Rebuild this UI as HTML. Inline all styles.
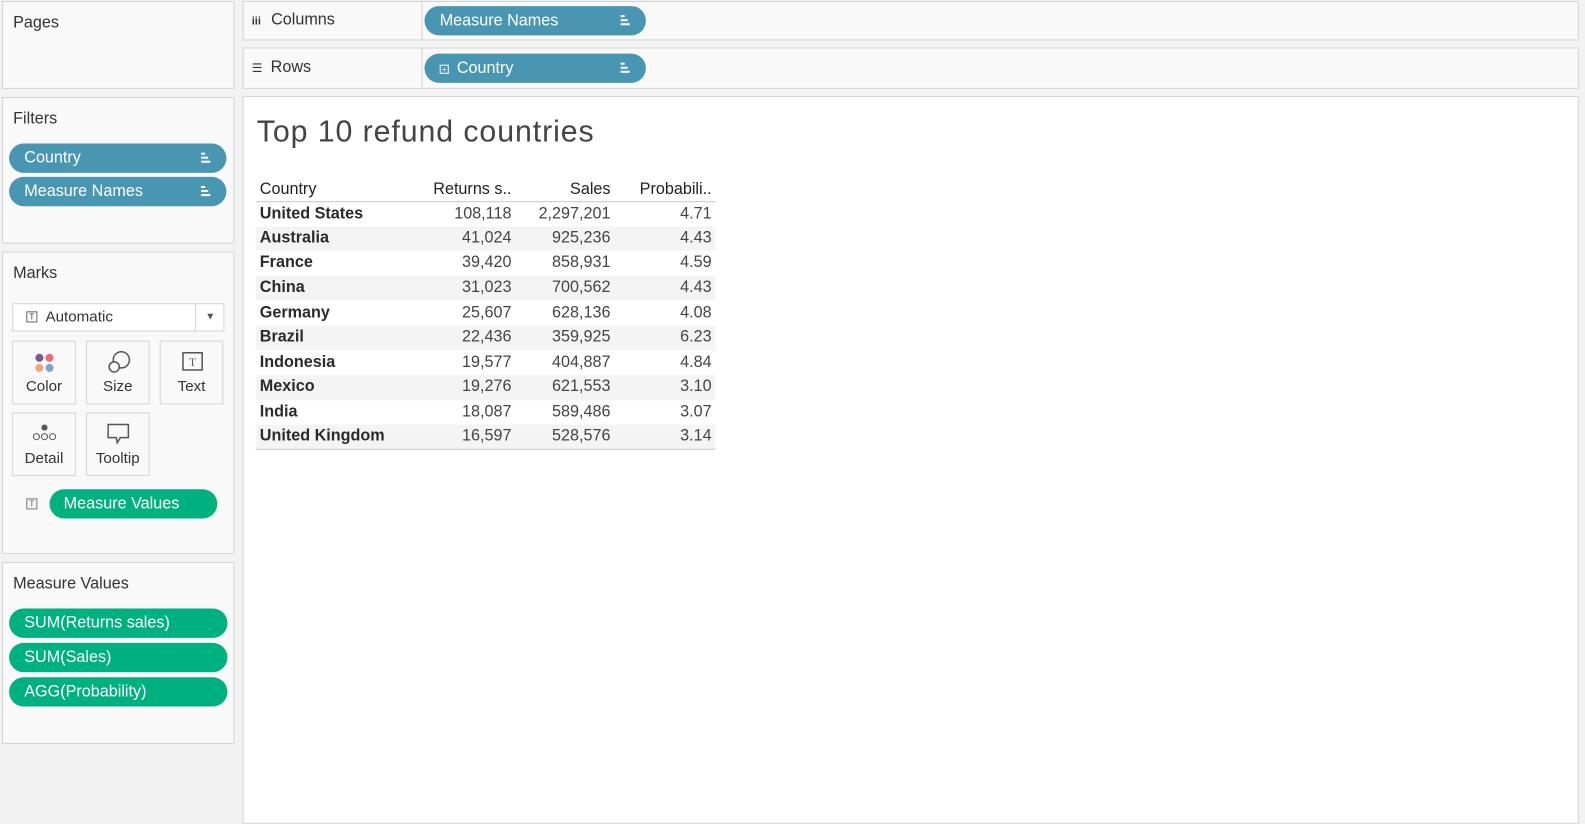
<!DOCTYPE html>
<html><head><meta charset="utf-8">
<style>
*{box-sizing:border-box;margin:0;padding:0}
body{width:1585px;height:807px;background:#f2f2f2;font-family:"Liberation Sans",sans-serif;overflow:hidden;color:#333}
#wrap{position:absolute;left:0;top:0;width:1568px;height:800px;transform:scale(1.0108);transform-origin:0 0}
.card{position:absolute;background:#f9f9f9;border:1px solid #d4d4d4}
.ttl{position:absolute;left:10px;font-size:16px;color:#333}
.pill{position:absolute;height:29px;border-radius:15px;color:#fff;font-size:16px;line-height:29px;padding-left:15px}
.blue{background:#4996b2}.green{background:#00b180}
.sort{position:absolute;right:16px;top:9px;width:9px;height:10px}
.sort i{display:block;height:2px;background:#fff;margin-bottom:2px}
.mk{position:absolute;width:63px;height:63px;border:1px solid #d4d4d4;background:#f9f9f9;font-size:15px;text-align:center}
.mk span{position:absolute;left:0;right:0;bottom:8px}
table{position:absolute;left:253px;top:177px;border-collapse:collapse;font-size:16px;color:#444}
td,th{height:24.6px;padding:0 4px;white-space:nowrap}
th{font-weight:normal;color:#222;border-bottom:1px solid #c8c8c8;height:22px}
td.c{font-weight:bold;color:#2a2a2a}
.r{text-align:right}
tr.s td{background:#f4f4f4}
tbody tr:last-child td{border-bottom:1px solid #c8c8c8}
</style></head><body>
<div id="wrap">
<div class="card" style="left:2px;top:1px;width:230px;height:87px"><div class="ttl" style="top:12px">Pages</div></div>
<div class="card" style="left:2px;top:96px;width:230px;height:145px"><div class="ttl" style="top:12px">Filters</div></div>
<div class="pill blue" style="left:9px;top:142px;width:215px">Country<div class="sort"><i style="width:4px"></i><i style="width:7px"></i><i></i></div></div>
<div class="pill blue" style="left:9px;top:175px;width:215px">Measure Names<div class="sort"><i style="width:4px"></i><i style="width:7px"></i><i></i></div></div>

<div class="card" style="left:2px;top:249px;width:230px;height:299px"><div class="ttl" style="top:12px">Marks</div></div>
<div style="position:absolute;left:12px;top:300px;width:210px;height:28px;border:1px solid #d4d4d4;background:#fff;font-size:15px;line-height:26px;padding-left:32px">Automatic
<span style="position:absolute;left:13px;top:7px;width:11px;height:11px;border:1px solid #666;font-size:8px;line-height:9px;text-align:center">T</span>
<span style="position:absolute;right:27px;top:0;height:26px;border-left:1px solid #d4d4d4"></span>
<span style="position:absolute;right:8px;top:0;font-size:10px;color:#555">▼</span></div>
<div class="mk" style="left:12px;top:337px">
<svg width="22" height="22" style="position:absolute;left:20px;top:10px"><circle cx="6" cy="6" r="4" fill="#7b5c8f"/><circle cx="16" cy="6" r="4" fill="#e8697a"/><circle cx="6" cy="16" r="4" fill="#f0a57a"/><circle cx="16" cy="16" r="4" fill="#7fa4cc"/></svg><span>Color</span></div>
<div class="mk" style="left:85px;top:337px">
<svg width="24" height="24" style="position:absolute;left:20px;top:8px"><circle cx="14" cy="10" r="8" fill="none" stroke="#555" stroke-width="1.5"/><circle cx="7" cy="17" r="5" fill="#f9f9f9" stroke="#555" stroke-width="1.5"/></svg><span>Size</span></div>
<div class="mk" style="left:158px;top:337px">
<svg width="22" height="22" style="position:absolute;left:21px;top:10px"><rect x="1" y="1" width="19" height="17" fill="none" stroke="#555" stroke-width="1.5"/><text x="10.5" y="14" font-size="11" text-anchor="middle" fill="#555" font-family="Liberation Serif">T</text></svg><span>Text</span></div>
<div class="mk" style="left:12px;top:408px">
<svg width="26" height="20" style="position:absolute;left:18px;top:10px"><circle cx="13" cy="4" r="3" fill="#555"/><circle cx="5" cy="13" r="3" fill="none" stroke="#555"/><circle cx="13" cy="13" r="3" fill="none" stroke="#555"/><circle cx="21" cy="13" r="3" fill="none" stroke="#555"/></svg><span>Detail</span></div>
<div class="mk" style="left:85px;top:408px">
<svg width="24" height="22" style="position:absolute;left:20px;top:10px"><path d="M1 1H21V14H13L10 19L9 14H1Z" fill="none" stroke="#555" stroke-width="1.5"/></svg><span>Tooltip</span></div>
<span style="position:absolute;left:26px;top:493px;width:11px;height:11px;border:1px solid #777;font-size:8px;line-height:9px;text-align:center;color:#555">T</span>
<div class="pill green" style="left:49px;top:484px;width:166px;padding-left:14px">Measure Values</div>

<div class="card" style="left:2px;top:556px;width:230px;height:180px"><div class="ttl" style="top:12px">Measure Values</div></div>
<div class="pill green" style="left:9px;top:602px;width:216px">SUM(Returns sales)</div>
<div class="pill green" style="left:9px;top:636px;width:216px">SUM(Sales)</div>
<div class="pill green" style="left:9px;top:670px;width:216px">AGG(Probability)</div>

<div class="card" style="left:240px;top:1px;width:1322px;height:39px">
<div style="position:absolute;left:8px;top:9px;font-size:16px"><span style="font-size:11px;font-weight:bold;margin-right:10px">iii</span>Columns</div>
<div style="position:absolute;left:176px;top:0;height:37px;border-left:1px solid #d4d4d4"></div></div>
<div class="pill blue" style="left:420px;top:6px;width:219px">Measure Names<div class="sort"><i style="width:4px"></i><i style="width:7px"></i><i></i></div></div>
<div class="card" style="left:240px;top:47px;width:1322px;height:41px">
<div style="position:absolute;left:8px;top:10px;font-size:16px"><span style="font-size:12px;margin-right:8px">☰</span>Rows</div>
<div style="position:absolute;left:176px;top:0;height:39px;border-left:1px solid #d4d4d4"></div></div>
<div class="pill blue" style="left:420px;top:53px;width:219px"><span style="display:inline-block;width:9px;height:9px;border:1px solid #fff;font-size:8px;line-height:7px;text-align:center;margin-right:8px;vertical-align:1px">+</span>Country<div class="sort"><i style="width:4px"></i><i style="width:7px"></i><i></i></div></div>

<div style="position:absolute;left:240px;top:95px;width:1322px;height:720px;background:#fff;border:1px solid #d4d4d4"></div>
<div style="position:absolute;left:254px;top:114px;font-size:30px;color:#444;letter-spacing:0.9px">Top 10 refund countries</div>

<table>
<thead><tr>
<th style="text-align:left;width:158px">Country</th>
<th class="r" style="width:99px">Returns s..</th>
<th class="r" style="width:98px">Sales</th>
<th class="r" style="width:100px">Probabili..</th>
</tr></thead>
<tbody id="tb"></tbody></table>
</div>
<script>
const countries=["United States","Australia","France","China","Germany","Brazil","Indonesia","Mexico","India","United Kingdom"];
const returnsSales=[108118,41024,39420,31023,25607,22436,19577,19276,18087,16597];
const sales=[2297201,925236,858931,700562,628136,359925,404887,621553,589486,528576];
const probability=[4.71,4.43,4.59,4.43,4.08,6.23,4.84,3.10,3.07,3.14];
const tb=document.getElementById('tb');
const fmt=n=>n.toLocaleString('en-US');
countries.forEach((c,i)=>{
  const tr=document.createElement('tr');
  
  
  if(i%2)tr.className='s';
  const vals=[[c,'c','country-cell'],[fmt(returnsSales[i]),'r','returns-sales-cell'],[fmt(sales[i]),'r','sales-cell'],[probability[i].toFixed(2),'r','probability-cell']];
  vals.forEach(v=>{
    const td=document.createElement('td');
    td.textContent=v[0];td.className=v[1];
    
    
    tr.appendChild(td);
  });
  tb.appendChild(tr);
});
</script>
</body></html>
